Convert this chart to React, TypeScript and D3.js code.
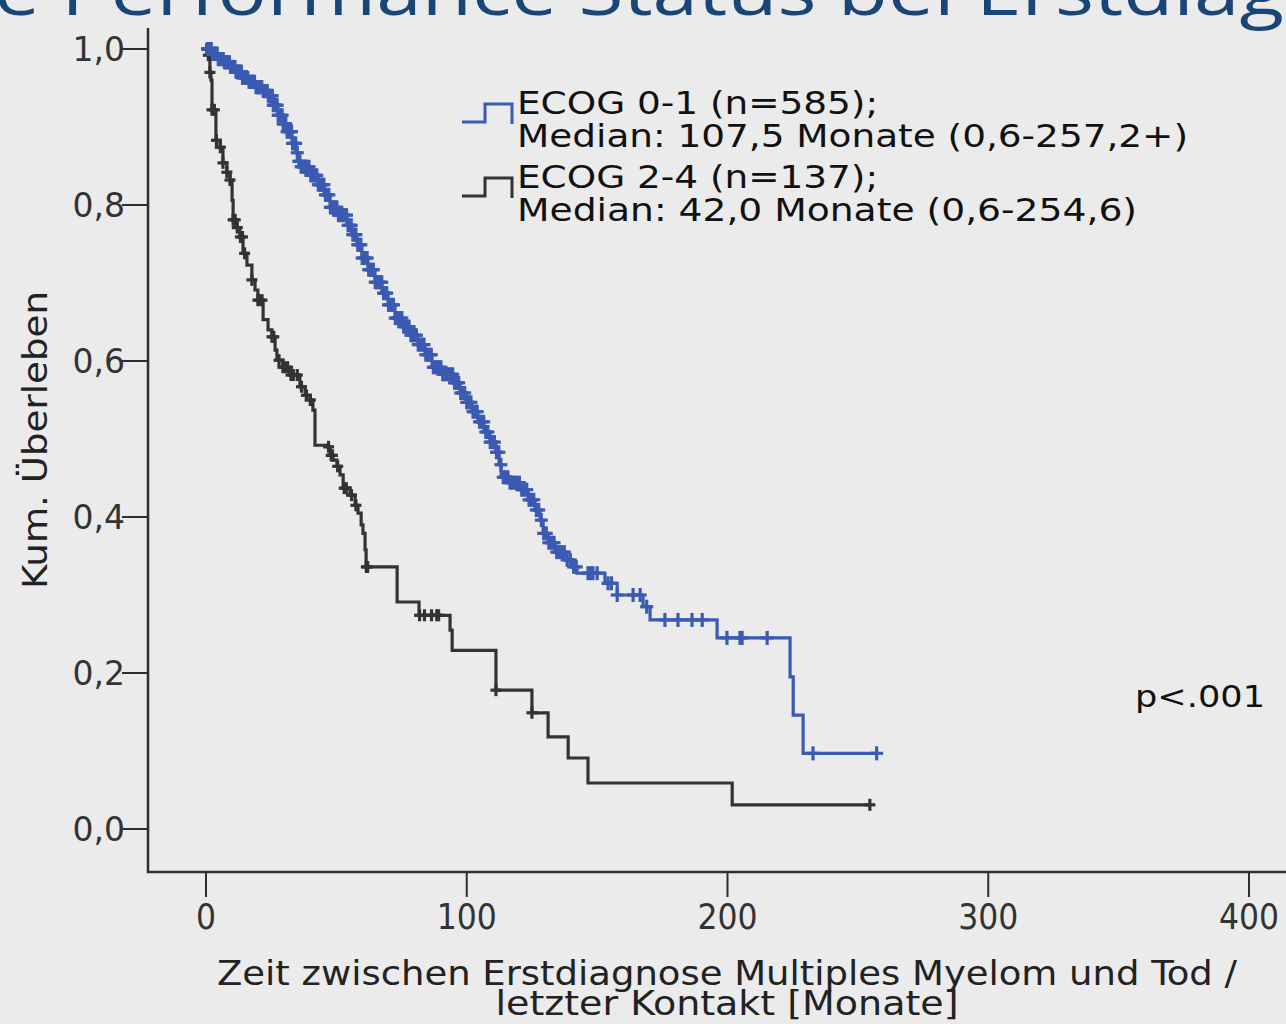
import * as d3 from "d3";

// ECOG 0-1: (months, survival) at each drop
const ecog01: [number, number][] = [
  [0, 1.0], [2.3, 0.994], [4.6, 0.987], [6.9, 0.983], [9.2, 0.977], [11.5, 0.971],
  [13.8, 0.963], [16.1, 0.958], [18.8, 0.951], [21.5, 0.946], [23.8, 0.94], [25.7, 0.928],
  [27.6, 0.915], [29.5, 0.904], [31.1, 0.894], [33.0, 0.879], [34.5, 0.867], [35.3, 0.856],
  [36.1, 0.849], [39.9, 0.838], [43.0, 0.826], [45.3, 0.813], [47.6, 0.797], [50.6, 0.787],
  [54.1, 0.774], [56.0, 0.762], [57.9, 0.749], [59.8, 0.732], [62.1, 0.717], [64.8, 0.701],
  [67.5, 0.687], [69.8, 0.672], [72.5, 0.655], [75.2, 0.644], [78.3, 0.633], [81.3, 0.621],
  [84.0, 0.608], [86.7, 0.592], [90.5, 0.583], [94.7, 0.572], [97.4, 0.559], [99.7, 0.547],
  [102.0, 0.535], [104.3, 0.522], [106.6, 0.509], [108.9, 0.496], [111.2, 0.483], [112.4, 0.467],
  [113.2, 0.451], [116.6, 0.444], [120.4, 0.435], [123.5, 0.422], [126.2, 0.409], [128.1, 0.396],
  [129.3, 0.379], [131.2, 0.367], [133.9, 0.355], [137.7, 0.345], [140.4, 0.336], [142.3, 0.328],
  [153.0, 0.315], [157.7, 0.3], [167.6, 0.285], [170.3, 0.268], [196.0, 0.245], [224.0, 0.195],
  [225.2, 0.146], [229.0, 0.097], [257.2, 0.097],
];
const ecog01Censored = [
  0.6, 1, 1.6, 2, 2.5, 2.8, 3.3, 3.5, 4, 4.3, 4.7, 5, 5.5, 5.9, 6.3, 6.6, 7.1, 7.4, 7.8, 8.1,
  8.6, 9, 9.4, 9.8, 10.3, 10.7, 11.1, 11.5, 12, 12.4, 12.8, 13.2, 13.6, 14, 14.6, 15.1, 15.5,
  16, 16.5, 16.9, 17.4, 17.8, 18.2, 18.6, 19.2, 19.7, 20.1, 20.5, 21, 21.4, 22, 22.6, 23, 23.5,
  23.9, 24.3, 24.8, 25.4, 25.8, 26.2, 26.8, 27.3, 27.7, 28.1, 28.6, 29.2, 29.6, 30, 30.6, 31.1,
  31.7, 32.3, 32.8, 33.2, 33.8, 34.4, 35, 35.6, 36, 36.5, 37.2, 37.8, 38.3, 38.9, 39.5, 40.2,
  40.8, 41.4, 41.9, 42.5, 43.1, 43.7, 44.1, 44.6, 45.2, 45.8, 46.4, 47.1, 47.7, 48.3, 49, 49.6,
  50.2, 50.8, 51.4, 52, 52.6, 53.2, 53.9, 54.5, 55.1, 55.7, 56.3, 56.9, 57.5, 58.2, 58.8, 59.4,
  59.9, 60.5, 61.2, 61.8, 62.4, 63.1, 63.6, 64.2, 64.9, 65.6, 66.2, 66.8, 67.4, 68.1, 68.7,
  69.3, 70, 70.6, 71.2, 71.9, 72.6, 73.2, 73.8, 74.5, 75.1, 75.8, 76.5, 77.2, 77.9, 78.6, 79.3,
  80, 80.7, 81.4, 82.2, 82.9, 83.6, 84.3, 85, 85.7, 86.4, 87.2, 87.9, 88.6, 89.3, 90.1, 90.8,
  91.5, 92.2, 93, 93.8, 94.6, 95.3, 96.1, 96.9, 97.7, 98.4, 99.2, 100, 100.8, 101.6, 102.4,
  103.2, 104, 104.9, 105.7, 106.5, 107.3, 108.1, 109, 109.8, 110.6, 111.4, 112.3, 113.1, 114,
  114.9, 115.8, 116.6, 117.5, 118.4, 119.3, 120.2, 121.1, 122, 123, 123.9, 124.8, 125.7, 126.7,
  127.6, 128.6, 129.5, 130.5, 131.5, 132.5, 133.5, 134.5, 135.4, 136.4, 137.4, 138.5, 139.7,
  141, 142, 146.5, 147.5, 148.4, 150, 154.2, 155.5, 157.7, 163.8, 166.5, 169, 176, 181, 186.4,
  190.3, 199.8, 204.8, 205.6, 215.2, 232.8, 257.2,
];

// ECOG 2-4
const ecog24: [number, number][] = [
  [0, 1.0], [0.8, 0.992], [1.5, 0.97], [1.9, 0.96], [2.3, 0.922], [3.8, 0.883], [5.4, 0.874],
  [6.5, 0.854], [8, 0.842], [9.2, 0.832], [10, 0.806], [10.4, 0.781], [11.5, 0.771], [13, 0.759],
  [14.2, 0.738], [15.7, 0.723], [17.6, 0.704], [18.8, 0.691], [19.9, 0.678], [21.9, 0.653],
  [23.8, 0.64], [25.3, 0.631], [26.5, 0.614], [27.2, 0.601], [29.5, 0.592], [32.2, 0.582],
  [36, 0.567], [38, 0.556], [39.9, 0.55], [41, 0.537], [41.8, 0.492], [46.4, 0.49], [47.6, 0.479],
  [48.7, 0.473], [50.2, 0.465], [51.4, 0.454], [52.6, 0.437], [55.2, 0.428], [57.2, 0.415],
  [58.3, 0.405], [59.5, 0.39], [60.2, 0.379], [61, 0.358], [61.4, 0.336], [73.3, 0.291],
  [81.7, 0.274], [93.6, 0.255], [94.4, 0.229], [111.2, 0.178], [125, 0.149], [131.2, 0.118],
  [138.9, 0.091], [146.5, 0.059], [201.8, 0.031], [254.6, 0.031],
];
const ecog24Censored = [
  0.3, 0.9, 1.5, 2.3, 3.2, 4, 5.5, 6.5, 8, 9.2, 10.4, 11.2, 12, 13.2, 14, 14.8, 17.6, 19.9,
  20.6, 21.5, 25.3, 26, 28, 29.5, 30.4, 31.3, 32.6, 33.5, 35, 36.6, 38.5, 40, 47, 48, 48.5,
  50.5, 53, 53.8, 55.8, 57.5, 61.5, 62, 81.9, 83.8, 86.5, 88.5, 89.2, 111.2, 125, 254.6,
];

const xTicks = [0, 100, 200, 300, 400];
const yTicks = [0, 0.2, 0.4, 0.6, 0.8, 1.0];
const legendLines = [
  ["ECOG 0-1 (n=585);", "Median: 107,5 Monate (0,6-257,2+)"],
  ["ECOG 2-4 (n=137);", "Median: 42,0 Monate (0,6-254,6)"],
];
const seriesColors = ["#3b5ab2", "#333333"];

const W = 1286;
const H = 1024;
const BG = "#ebebeb";
const AX = "#2e2e2e";

const x = d3.scaleLinear().domain([0, 400]).range([206, 1249]);
const y = d3.scaleLinear().domain([0, 1]).range([829, 49]);

const line = d3
  .line<[number, number]>()
  .x((d) => x(d[0]))
  .y((d) => y(d[1]))
  .curve(d3.curveStepAfter);

const bis = d3.bisector((d: [number, number]) => d[0]).right;
const survAt = (pts: [number, number][], t: number) => pts[Math.max(0, bis(pts, t) - 1)][1];

function Curve({ pts, censored, color, mark }: { pts: [number, number][]; censored: number[]; color: string; mark: number }) {
  return (
    <g>
      <path d={line(pts) || ""} fill="none" stroke={color} strokeWidth={3.2} />
      {censored.map((t, i) => {
        const cx = x(t);
        const cy = y(survAt(pts, t));
        return (
          <g key={i} stroke={color} strokeWidth={3.2}>
            <line x1={cx} x2={cx} y1={cy - mark} y2={cy + mark} />
            <line x1={cx - mark + 0.5} x2={cx + mark - 0.5} y1={cy} y2={cy} />
          </g>
        );
      })}
    </g>
  );
}

export default function App() {
  const cond = "'DejaVu Sans Condensed', 'DejaVu Sans', sans-serif";
  return (
    <svg
      width={W}
      height={H}
      style={{ display: "block", position: "absolute", left: 0, top: 0 }}
      viewBox={`0 0 ${W} ${H}`}
    >
      <rect width={W} height={H} fill={BG} />
      {/* cut-off slide title */}
      <text
        x={-6}
        y={15}
        fontFamily="'Open Sans', 'DejaVu Sans', sans-serif"
        fontSize={68}
        fill="#1a4677"
        textLength={1290}
        lengthAdjust="spacingAndGlyphs"
      >
        e Performance Status bei Erstdiag
      </text>

      {/* axes */}
      <line x1={148} x2={148} y1={28} y2={873} stroke={AX} strokeWidth={2.5} />
      <line x1={147} x2={W} y1={872} y2={872} stroke={AX} strokeWidth={2.5} />
      {yTicks.map((v) => (
        <g key={v}>
          <line x1={122} x2={148} y1={y(v)} y2={y(v)} stroke={AX} strokeWidth={2} />
          <text
            x={125}
            y={y(v)}
            dy="0.36em"
            textAnchor="end"
            fontFamily="'DejaVu Sans', sans-serif"
            fontSize={33}
            fill="#333"
          >
            {d3.format(".1f")(v).replace(".", ",")}
          </text>
        </g>
      ))}
      {xTicks.map((v) => (
        <g key={v}>
          <line x1={x(v)} x2={x(v)} y1={872} y2={897} stroke={AX} strokeWidth={2} />
          <text x={x(v)} y={929} textAnchor="middle" fontFamily={cond} fontSize={35} fill="#333">
            {v}
          </text>
        </g>
      ))}

      <text
        transform="translate(47,440) rotate(-90)"
        textAnchor="middle"
        fontFamily={cond}
        fontSize={33}
        fill="#222"
        textLength={298}
        lengthAdjust="spacingAndGlyphs"
      >
        Kum. Überleben
      </text>
      <text x={727} y={985} textAnchor="middle" fontFamily={cond} fontSize={33} fill="#222"
        textLength={1020} lengthAdjust="spacingAndGlyphs">
        Zeit zwischen Erstdiagnose Multiples Myelom und Tod /
      </text>
      <text x={727} y={1015} textAnchor="middle" fontFamily={cond} fontSize={33} fill="#222"
        textLength={463} lengthAdjust="spacingAndGlyphs">
        letzter Kontakt [Monate]
      </text>

      <Curve pts={ecog24} censored={ecog24Censored} color={seriesColors[1]} mark={6} />
      <Curve pts={ecog01} censored={ecog01Censored} color={seriesColors[0]} mark={7} />

      {/* legend */}
      {legendLines.map((lines, i) => {
        const top = 104 + i * 74;
        return (
          <g key={i}>
            <path
              d={`M462,${top + 18}H485V${top}H512V${top + 20}`}
              fill="none"
              stroke={seriesColors[i]}
              strokeWidth={3}
            />
            <text x={517} y={top + 10} fontFamily={cond} fontSize={32} fill="#111"
              textLength={361} lengthAdjust="spacingAndGlyphs">
              {lines[0]}
            </text>
            <text x={517} y={top + 43} fontFamily={cond} fontSize={32} fill="#111"
              textLength={i === 0 ? 671 : 620} lengthAdjust="spacingAndGlyphs">
              {lines[1]}
            </text>
          </g>
        );
      })}
      <text x={1135} y={707} fontFamily="'DejaVu Sans', sans-serif" fontSize={30} fill="#111"
        textLength={130} lengthAdjust="spacingAndGlyphs">
        p&lt;.001
      </text>
    </svg>
  );
}
